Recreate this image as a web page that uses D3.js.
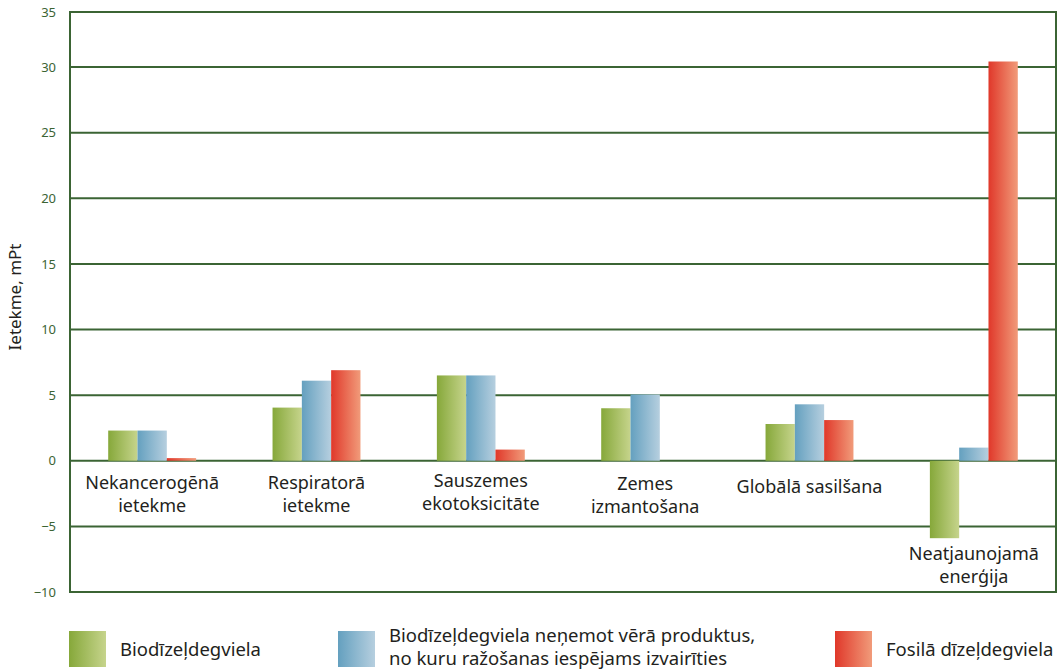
<!DOCTYPE html>
<html><head><meta charset="utf-8">
<script src="https://cdn.jsdelivr.net/npm/d3@7"></script>
<style>body{margin:0;background:#fff}svg{display:block}</style>
</head><body>
<svg id="c" width="1063" height="670"></svg>
<script>
const categories = [["Nekancerogēnā","ietekme"],["Respiratorā","ietekme"],["Sauszemes","ekotoksicitāte"],["Zemes","izmantošana"],["Globālā sasilšana"],["Neatjaunojamā","enerģija"]];
const seriesNames = ["Biodīzeļdegviela","Biodīzeļdegviela neņemot vērā produktus,|no kuru ražošanas iespējams izvairīties","Fosilā dīzeļdegviela"];
const bio = [2.3, 4.05, 6.5, 4.0, 2.8, -5.9];
const bioAvoid = [2.3, 6.1, 6.5, 5.05, 4.3, 1.0];
const fossil = [0.2, 6.9, 0.85, 0, 3.1, 30.5];
const yTicks = [-10,-5,0,5,10,15,20,25,30,35];

const svg = d3.select("#c");
const L=70,R=1056,T=12,B=592;
const FONT="'Noto Sans',sans-serif";
const x = d3.scaleBand().domain(d3.range(categories.length)).range([L,R]).paddingInner(0.465).paddingOuter(0.2325);
const y = d3.scaleLinear().domain([-10,30,35]).range([B,67,T]);
const sub = d3.scaleBand().domain([0,1,2]).range([0,x.bandwidth()]);
const grads = [["#86a83a","#c6d48c"],["#64a0bf","#b6cfdf"],["#e0382a","#f19b7a"]];
const defs = svg.append("defs");
grads.forEach((g,i)=>{const lg=defs.append("linearGradient").attr("id","g"+i).attr("x1","0").attr("x2","1").attr("y1","0").attr("y2","0");
 lg.append("stop").attr("offset","0").attr("stop-color",g[0]);lg.append("stop").attr("offset","1").attr("stop-color",g[1]);});

const gridColor="#3b6434";
const ya = svg.append("g").attr("transform",`translate(${L},0)`).call(d3.axisLeft(y).tickValues(yTicks).tickSize(0).tickPadding(14).tickFormat(d=>d<0?"\u2212"+Math.abs(d):d));
ya.select(".domain").remove();
ya.selectAll("text").attr("fill","#3b6434").style("font-family",FONT).style("font-size","13px");
svg.append("g").selectAll("line").data(yTicks).join("line").attr("x1",L).attr("x2",R).attr("y1",d=>y(d)).attr("y2",d=>y(d)).attr("stroke",gridColor).attr("stroke-width",2);
svg.append("line").attr("x1",L).attr("x2",L).attr("y1",T-1).attr("y2",B+1).attr("stroke",gridColor).attr("stroke-width",2);
svg.append("line").attr("x1",R).attr("x2",R).attr("y1",T-1).attr("y2",B+1).attr("stroke",gridColor).attr("stroke-width",2);

const series=[bio,bioAvoid,fossil];
series.forEach((s,si)=>{
 svg.append("g").selectAll("rect").data(s).join("rect")
  .attr("x",(d,i)=>x(i)+sub(si)).attr("width",sub.bandwidth())
  .attr("y",d=>y(Math.max(0,d))).attr("height",d=>Math.abs(y(d)-y(0)))
  .attr("fill",`url(#g${si})`);
});

const labelY=[489,489,487,490,493,560];
categories.forEach((c,i)=>{
 const t=svg.append("text").attr("x",x(i)+x.bandwidth()/2).attr("y",labelY[i]).attr("text-anchor","middle")
  .attr("fill","#231f20").style("font-family",FONT).style("font-size","18px");
 c.forEach((line,k)=>t.append("tspan").attr("x",x(i)+x.bandwidth()/2).attr("dy",k?23:0).text(line));
});

svg.append("text").attr("transform","translate(21,297) rotate(-90)").attr("text-anchor","middle").attr("fill","#231f20")
 .style("font-family",FONT).style("font-size","17px").text("Ietekme, mPt");

const legX=[69,338,835];
seriesNames.forEach((n,i)=>{
 svg.append("rect").attr("x",legX[i]).attr("y",631).attr("width",37).attr("height",36).attr("fill",`url(#g${i})`);
 const lines=n.split("|");
 const t=svg.append("text").attr("x",legX[i]+49).attr("y",lines.length>1?642:656).attr("fill","#231f20")
  .style("font-family",FONT).style("font-size","18.5px");
 lines.forEach((l,k)=>t.append("tspan").attr("x",legX[i]+51).attr("dy",k?23:0).text(l));
});
</script>
</body></html>
